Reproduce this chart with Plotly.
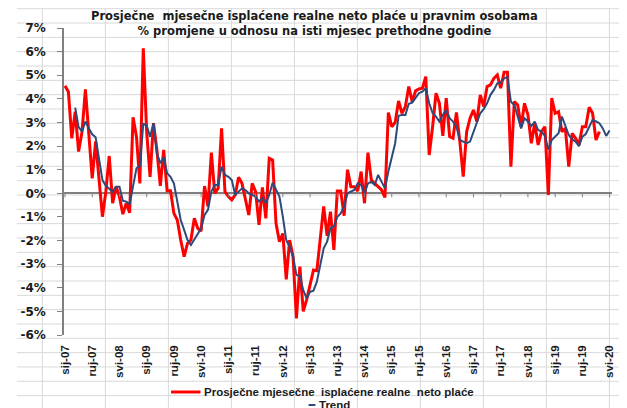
import plotly.graph_objects as go

# month index 0 = sij-07 (Jan 2007)
TICK_LABELS = ["sij-07", "ruj-07", "svi-08", "sij-09", "ruj-09", "svi-10", "sij-11",
               "ruj-11", "svi-12", "sij-13", "ruj-13", "svi-14", "sij-15", "ruj-15",
               "svi-16", "sij-17", "ruj-17", "svi-18", "sij-19", "ruj-19", "svi-20"]
TICK_STEP = 8

# Prosječne mjesečne isplaćene realne neto plaće, % (Jan 2007 - Feb 2020)
REAL_WAGES = [
    4.55, 4.3, 2.33, 3.46, 1.77, 2.6, 4.4, 2.5, 0.63, 2.2, 0.56, -0.99,
    0.07, 1.58, -0.42, 0.28, -0.14, -0.88, -0.42, -0.82, 3.22, 2.4, 0.42, 6.14,
    2.6, 0.7, 2.97, 1.84, 0.32, 1.84, 0.11, 0.11, -0.85, -1.13, -1.98, -2.68,
    -2.12, -1.98, -1.06, -1.48, -1.6, 0.31, -0.56, 1.72, 0.0, 0.21, 2.75, 0.07,
    -0.14, -0.28, -0.07, 0.68, 0.42, -0.28, -0.92, 0.42, 0.07, -1.34, 0.25, -1.06,
    1.48, 1.41, -1.27, -2.05, -1.7, -3.64, -1.98, -2.68, -5.3, -3.1, -5.0, -4.5,
    -3.84, -3.25, -3.28, -1.84, -0.56, -1.8, -0.78, -2.4, 0.1, 0.1, -0.95, 1.0,
    0.28, 0.28, 0.1, 0.92, -0.42, 1.72, 0.56, 0.42, 0.3, 0.14, -0.17, 3.42,
    2.82, 3.0, 3.91, 3.39, 3.67, 4.52, 3.88, 4.34, 4.42, 4.45, 4.94, 1.62,
    2.82, 4.24, 3.81, 2.43, 4.03, 2.4, 2.33, 3.42, 2.19, 0.71, 2.61, 3.18,
    3.53, 3.04, 4.17, 3.67, 4.52, 4.59, 4.87, 5.01, 4.45, 5.13, 5.13, 1.13,
    3.88, 3.74, 2.82, 3.81, 3.32, 2.12, 2.97, 2.05, 2.61, 2.82, -0.07, 4.03,
    3.39, 3.46, 2.61, 2.75, 1.13, 2.54, 2.33, 2.05, 2.82, 2.82, 3.64, 3.39,
    2.26, 2.61,
]

# Trend (Apr 2007 - May 2020)
TREND_START = 3
TREND = [
    3.63, 2.8, 2.61, 3.04, 2.75, 2.5, 2.37, 1.55, 0.56,
    0.32, 0.21, 0.07, 0.28, 0.28, -0.31, -0.35, -0.45, 0.28, 1.06, 1.16, 2.94,
    2.87, 2.4, 2.97, 1.7, 1.27, 1.53, 0.85, 0.7, 0.42, -0.42, -1.13, -1.55,
    -1.98, -2.19, -1.95, -1.7, -1.48, -0.92, -0.7, 0.07, 0.35, 0.35, 1.13, 0.78,
    0.7, 0.56, -0.07, 0.07, 0.21, 0.14, 0.0, -0.07, -0.14, -0.35, -0.21, -0.42,
    -0.07, 0.45, 0.14, -0.14, -0.99, -1.98, -2.26, -2.68, -3.46, -3.5, -4.1, -4.45,
    -4.17, -4.12, -3.74, -3.1, -2.33, -2.05, -1.48, -1.4, -1.0, -0.85, -0.56, 0.0,
    0.07, 0.14, 0.42, 0.35, 0.0, 0.42, 0.49, 0.35, 0.78, 0.49, 0.21, 0.92,
    1.48, 2.12, 3.28, 3.32, 3.32, 3.79, 3.84, 4.03, 4.24, 4.3, 4.45, 3.81,
    3.39, 3.25, 3.04, 3.32, 3.53, 3.18, 3.04, 2.82, 2.26, 2.19, 2.12, 2.19,
    2.61, 3.04, 3.39, 3.56, 3.81, 4.17, 4.38, 4.66, 4.69, 4.87, 4.92, 3.88,
    3.74, 3.25, 2.75, 3.18, 3.04, 2.85, 3.04, 2.68, 2.61, 2.43, 1.86, 2.26,
    2.4, 2.54, 3.25, 2.82, 2.47, 2.29, 2.19, 2.0, 2.4, 2.51, 2.82, 3.11,
    3.04, 2.97, 2.75, 2.43, 2.66,
]

Y_TICKS = list(range(-6, 8))

# the page body has an 8px margin, so the figure is laid out 8px smaller
OFF = 8
W, H = 627 - OFF, 408 - OFF
L, R, T, B = 56 - OFF, 13, 28 - OFF, 73
PW, PH = W - L - R, H - T - B

RED = "#FF0000"
BLUE = "#2E4A7D"
GRID = "#D9D9D9"
AXIS = "#808080"
TXT = "#1a1a1a"


def px(x):
    # screen pixel -> paper x
    return (x - OFF - L) / PW


def py(y):
    # screen pixel -> paper y
    return (H - B - (y - OFF)) / PH


fig = go.Figure()

fig.add_trace(go.Scatter(
    x=list(range(len(REAL_WAGES))), y=REAL_WAGES, mode="lines",
    line=dict(color=RED, width=3), name="Prosječne mjesečne  isplaćene realne  neto plaće",
))
fig.add_trace(go.Scatter(
    x=list(range(TREND_START, TREND_START + len(TREND))), y=TREND, mode="lines",
    line=dict(color=BLUE, width=2), name="Trend",
))

shapes = []
# spreadsheet grid behind the chart
gx = 34.0
while gx < 627:
    shapes.append(dict(type="line", xref="paper", yref="paper", x0=px(gx), x1=px(gx),
                       y0=py(OFF), y1=py(408), line=dict(color=GRID, width=1), layer="below"))
    gx += 64.15
gy = 8.7
while gy < 408:
    shapes.append(dict(type="line", xref="paper", yref="paper", x0=px(OFF), x1=px(627),
                       y0=py(gy), y1=py(gy), line=dict(color=GRID, width=1), layer="below"))
    gy += 14.33

tickvals = [i * TICK_STEP for i in range(len(TICK_LABELS))]
for v in tickvals:
    shapes.append(dict(type="line", xref="x", yref="y", x0=v, x1=v, y0=0, y1=-0.17,
                       line=dict(color=AXIS, width=1)))

# legend
shapes.append(dict(type="line", xref="paper", yref="paper", x0=px(165), x1=px(195),
                   y0=py(392), y1=py(392), line=dict(color=RED, width=3)))
shapes.append(dict(type="line", xref="paper", yref="paper", x0=px(305), x1=px(312),
                   y0=py(405), y1=py(405), line=dict(color=BLUE, width=2)))

annotations = [
    dict(xref="paper", yref="paper", x=px(311), y=py(24), xanchor="center", yanchor="middle",
         showarrow=False, align="center",
         text="Prosječne  mjesečne isplaćene realne neto plaće u pravnim osobama<br>"
              "% promjene u odnosu na isti mjesec prethodne godine",
         font=dict(family="DejaVu Sans", size=11.5, color=TXT, weight="bold")),
    dict(xref="paper", yref="paper", x=px(197), y=py(392), xanchor="left", yanchor="middle",
         showarrow=False, text="Prosječne mjesečne  isplaćene realne  neto plaće",
         font=dict(family="Liberation Sans, Arial", size=11.5, color=TXT, weight="bold")),
    dict(xref="paper", yref="paper", x=px(314), y=py(405), xanchor="left", yanchor="middle",
         showarrow=False, text="Trend",
         font=dict(family="Liberation Sans, Arial", size=11.5, color=TXT, weight="bold")),
]

fig.update_layout(
    width=W, height=H,
    margin=dict(l=L, r=R, t=T, b=B),
    paper_bgcolor="white", plot_bgcolor="rgba(0,0,0,0)",
    showlegend=False,
    shapes=shapes, annotations=annotations,
    xaxis=dict(
        range=[-0.29, -0.29 + PW / 3.466], tickvals=tickvals, ticktext=TICK_LABELS,
        tickangle=-90, showgrid=False, zeroline=False, showline=False, ticks="",
        ticklabelstandoff=7,
        tickfont=dict(family="Liberation Sans, Arial", size=11.5, color=TXT, weight="bold"),
    ),
    yaxis=dict(
        range=[-6, 7], tickvals=Y_TICKS, ticktext=[f"{v}%" for v in Y_TICKS],
        showgrid=False, zeroline=True, zerolinecolor=AXIS, zerolinewidth=1.5,
        showline=True, linecolor=AXIS, linewidth=1.5,
        ticks="outside", ticklen=5, tickcolor=AXIS, ticklabelstandoff=9,
        tickfont=dict(family="DejaVu Sans", size=12, color=TXT, weight="bold"),
    ),
)

fig.write_html("out.html")
